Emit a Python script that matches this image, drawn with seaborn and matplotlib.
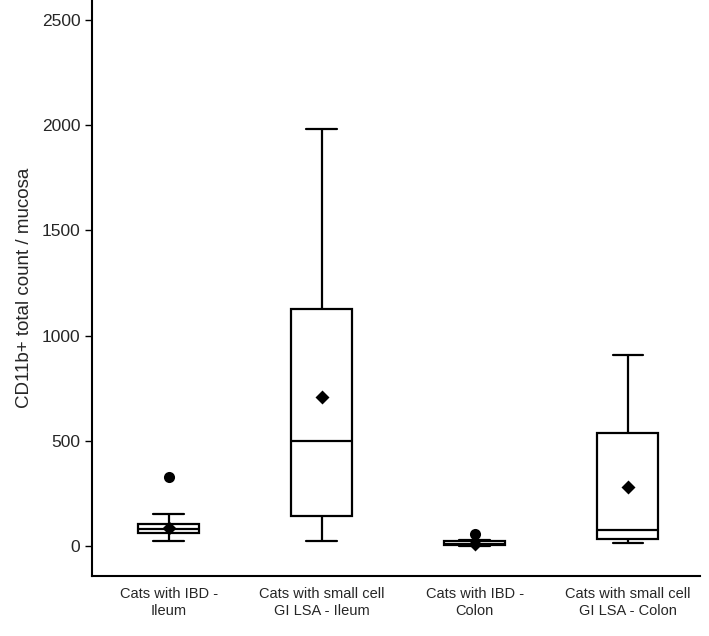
import matplotlib
matplotlib.use('Agg')
import matplotlib.pyplot as plt
import seaborn as sns
import pandas as pd

# Group labels (x axis)
categories = ['Cats with IBD -\nIleum',
              'Cats with small cell\nGI LSA - Ileum',
              'Cats with IBD -\nColon',
              'Cats with small cell\nGI LSA - Colon']

# Box statistics
whisker_low = [24, 24, 0, 17]
q1 = [62, 143, 3, 35]
median = [81, 500, 12, 76]
q3 = [105, 1126, 24, 537]
whisker_high = [152, 1982, 30, 908]
outliers = [[328], [], [58], []]
means = [85, 708, 8, 280]

# Long table whose quartiles and min/max reproduce the stats above
rows = []
for i, cat in enumerate(categories):
    vals = [whisker_low[i], q1[i], q1[i], median[i], median[i],
            q3[i], q3[i], whisker_high[i]]
    for v in vals:
        rows.append({'group': cat, 'value': v})
df = pd.DataFrame(rows)

out_rows = [{'group': categories[i], 'value': v}
            for i in range(len(categories)) for v in outliers[i]]
df_out = pd.DataFrame(out_rows)

sns.set_style('ticks')
plt.rcParams['font.family'] = ['Liberation Sans', 'DejaVu Sans']

fig = plt.figure(figsize=(7.09, 6.36), dpi=100)
ax = fig.add_axes([0.13, 0.094, 0.857, 0.906])

sns.boxplot(data=df, x='group', y='value', order=categories, width=0.4,
            color='white', linecolor='black', linewidth=1.6, whis=(0, 100),
            ax=ax)
sns.stripplot(data=df_out, x='group', y='value', order=categories,
              jitter=False, color='black', size=8, ax=ax)
sns.pointplot(x=categories, y=means, order=categories, linestyle='none',
              marker='D', markersize=5, color='black', errorbar=None, ax=ax)

ax.set_xlim(-0.5, 3.47)
ax.set_ylim(-143, 2595)
ax.set_yticks([0, 500, 1000, 1500, 2000, 2500])
ax.set_xlabel('')
ax.set_ylabel('CD11b+ total count / mucosa', fontsize=13.5, labelpad=6)
ax.tick_params(axis='y', labelsize=12.5, length=5, width=1, color='black')
ax.tick_params(axis='x', labelsize=10.5, length=0, pad=8)
sns.despine(ax=ax)
for s in ['left', 'bottom']:
    ax.spines[s].set_linewidth(1.5)
    ax.spines[s].set_color('black')

plt.savefig('out.png', dpi=100)
print('done')
